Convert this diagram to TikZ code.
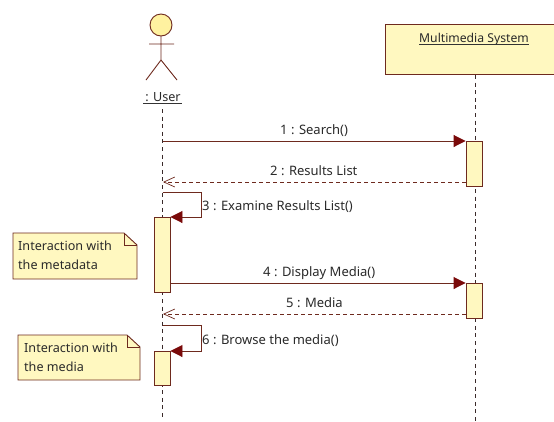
\documentclass[tikz,border=0pt]{standalone}
\usepackage{fontspec}
\setmainfont{Noto Sans}
\usetikzlibrary{arrows.meta}
\definecolor{umlline}{HTML}{6E2A1E}
\definecolor{umlfill}{HTML}{FFF8C0}
\definecolor{umlhead}{HTML}{7A0A0A}
\definecolor{umltext}{HTML}{2A2A2A}
\definecolor{lifeclr}{HTML}{3A2A2A}
\definecolor{headfill}{HTML}{FFF2A0}
\tikzset{
  x=1pt,y=-1pt,
  every node/.style={font=\fontsize{12.6}{15}\selectfont,text=umltext},
  shapeline/.style={draw=umlline,line width=0.9pt,fill=umlfill},
  actbox/.style={shapeline,anchor=north,minimum width=16pt,inner sep=0pt},
  lifeline/.style={draw=lifeclr,line width=0.9pt,dash pattern=on 4pt off 3.6pt},
  callmsg/.style={draw=umlline,line width=0.9pt,-{Triangle[length=12pt,width=12pt,fill=umlhead,color=umlhead]}},
  backmsg/.style={draw=umlline,line width=0.8pt,dash pattern=on 4pt off 3pt,-{Straight Barb[length=11pt,width=10pt,color=umlline,line width=0.7pt]}},
  msglabel/.style={inner sep=0pt,anchor=base west,font=\fontsize{13}{15}\selectfont},
  notetext/.style={inner sep=0pt,anchor=base west,align=left},
}
\begin{document}
\begin{tikzpicture}
\useasboundingbox (0,0) rectangle (554,421);
\fill[white] (0,0) rectangle (554,421);
% actor
\draw[draw=umlline,line width=0.9pt,fill=headfill] (161,25) circle (11);
\draw[draw=umlline,line width=0.9pt] (161,36) -- (161,60) (149,44) -- (174,44) (146,80) -- (161,60) -- (177,80);
\node[inner sep=0pt,anchor=base] (usr) at (163,101) {: User};
\draw[draw=black!80,line width=0.9pt] (143,103) -- (182,103);
\coordinate (usrtop) at (162.5,109);
\coordinate (usrend) at (162.5,419);
% system
\fill[umlfill] (385,24) rectangle (554,74);
\draw[draw=umlline,line width=0.9pt] (554,24) -- (385,24) -- (385,74) -- (554,74);
\node[inner sep=0pt,anchor=base,font=\fontsize{12.2}{15}\selectfont] (sys) at (474,42) {Multimedia System};
\draw[draw=black!80,line width=0.7pt] (419,44.5) -- (529,44.5);
\coordinate (systop) at (475,75);
\coordinate (sysend) at (475,421);
% lifelines
\draw[lifeline] (usrtop) -- (usrend);
\draw[lifeline] (systop) -- (sysend);
% activations
\node[actbox,minimum height=45pt] (a1) at (474,141) {};
\node[actbox,minimum height=35pt] (a2) at (474,283) {};
\node[actbox,minimum height=75pt] (u1) at (162,217) {};
\node[actbox,minimum height=34pt] (u2) at (162,351) {};
% messages
\coordinate (m1s) at (162.5,141);
\draw[callmsg] (m1s) -- (a1.north west);
\node[msglabel] (l1) at (280,134) {1 : Search()};
\coordinate (m2e) at (163,182);
\draw[backmsg] (a1.west |- m2e) -- (m2e);
\node[msglabel] (l2) at (270,175) {2 : Results List};
\coordinate (m3s) at (162.5,192);
\coordinate (m3a) at (201,192);
\draw[callmsg] (m3s) -- (m3a) -- (201,217) -- (u1.north east);
\node[msglabel] (l3) at (202,210) {3 : Examine Results List()};
\coordinate (m4) at (170,283);
\draw[callmsg] (u1.east |- m4) -- (a2.north west);
\node[msglabel] (l4) at (263,276) {4 : Display Media()};
\coordinate (m5e) at (163,314);
\draw[backmsg] (a2.west |- m5e) -- (m5e);
\node[msglabel] (l5) at (286,307) {5 : Media};
\coordinate (m6s) at (162.5,325);
\draw[callmsg] (m6s) -- (201,325) -- (201,351) -- (u2.north east);
\node[msglabel] (l6) at (202,344) {6 : Browse the media()};
% notes
\draw[shapeline] (13,233) -- (124,233) -- (137,245) -- (137,279) -- (13,279) -- cycle;
\draw[draw=umlline,line width=0.8pt] (124,233) -- (124,245) -- (137,245);
\node[notetext] (n1a) at (18,250) {Interaction with};
\node[notetext] (n1b) at (18,269) {the metadata};
\draw[shapeline] (18,335) -- (127,335) -- (140,347) -- (140,380) -- (18,380) -- cycle;
\draw[draw=umlline,line width=0.8pt] (127,335) -- (127,347) -- (140,347);
\node[notetext] (n2a) at (24,352) {Interaction with};
\node[notetext] (n2b) at (24,371) {the media};
\end{tikzpicture}
\end{document}
